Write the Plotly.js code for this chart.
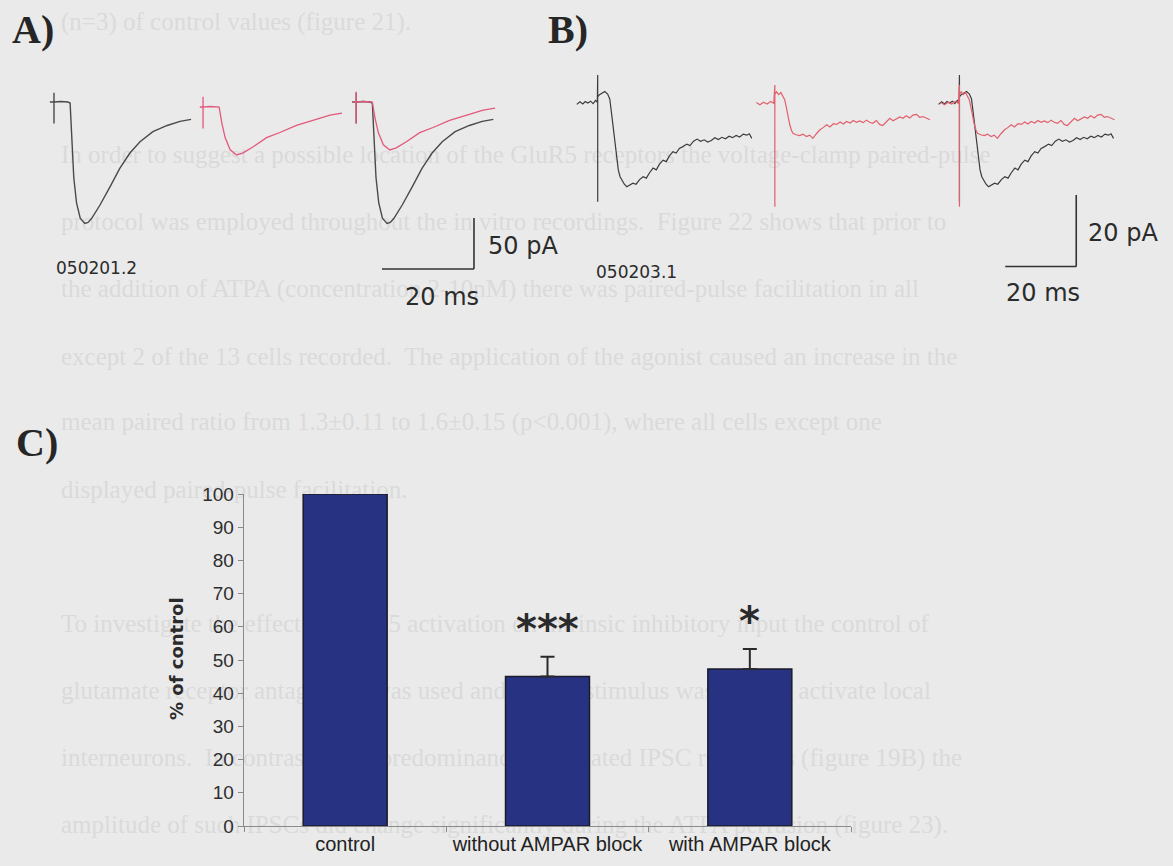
<!DOCTYPE html>
<html>
<head>
<meta charset="utf-8">
<script src="https://cdn.plot.ly/plotly-3.0.1.min.js"></script>
<style>html,body{margin:0;padding:0;background:#eaeaea;}#chart{width:1173px;height:866px;}</style>
</head>
<body>
<div id="chart"></div>
<script>
// ---------------- DATA ----------------
// Panel C: bar chart (% of control)
const categories = ['control', 'without AMPAR block', 'with AMPAR block'];
const meanPct = [100, 45.0, 47.3];
const semPct = [0, 6.0, 6.0];
const sigLabels = ['', '***', '*'];

// Panel A: recording 050201.2 (time in ms from stimulus, current in pA from baseline)
const tA_control = [-0.9, 0, 0, 0, 0, 1.5, 3.0, 3.5, 3.8, 4.3, 4.9, 5.7, 6.7, 7.4, 8.2, 10.0, 12.2, 14.3, 16.5, 18.7, 21.5, 24.6, 27.4, 29.8];
const iA_control = [0, 0, 9, -21, 0, 0.5, 0, -1, -34, -74, -99, -114, -119, -118, -114, -101, -83, -65, -50, -39, -29, -23, -19, -17];
const tA_atpa = [-0.7, 0, 0, 0, 0, 1.5, 3.0, 3.5, 4.1, 4.8, 5.9, 7.3, 8.7, 10.9, 13.8, 16.7, 20.3, 23.9, 27.6, 30.2];
const iA_atpa = [0, 0, 10, -21, 0, 0.5, 0.5, 0, -16, -30, -42, -47, -45, -39, -30, -25, -18, -13, -8, -6];
const scaleA = {ms: 20, pA: 50};
const idA = '050201.2';

// Panel B: recording 050203.1
const tB_control = [-5.9, -5, -4.2, -3.5, -2.8, -2, -1.3, -0.6, -0.1, 0, 0, 0, 0.5, 1.2, 2, 2.8, 3.4, 3.9, 4.4, 4.9, 5.3, 5.8, 6.3, 6.8, 7.5, 8.2, 9, 9.9, 10.8, 11.8, 12.8, 13.7, 14.6, 15.6, 16.5, 17.4, 18.4, 19.3, 20.2, 21.2, 22.1, 23, 24, 25.1, 26, 27, 28, 29, 30, 31, 32, 33, 34, 35, 36, 37, 38, 39, 40, 41, 42, 42.7, 43.4];
const iB_control = [-0.3, 0.4, -0.2, 0.5, 0.1, 0.6, -0.1, 0.8, 0.3, 7.9, -27.5, 1.8, 2.4, 2.9, 3.3, 2.6, 1.2, -2.8, -7, -11.1, -15, -18.6, -20.5, -21.4, -22.6, -23.3, -22.8, -22.3, -22.6, -21.3, -20.5, -20.9, -19.4, -18.1, -18.6, -17.0, -15.9, -16.3, -14.7, -13.5, -13.9, -12.6, -12.1, -11.4, -11.8, -10.6, -10.0, -10.6, -10.2, -10.8, -10.4, -9.6, -10.1, -9.5, -9.9, -9.2, -9.6, -9.0, -9.4, -8.6, -8.9, -8.5, -9.8];
const tB_atpa = [-5.2, -4.2, -3.2, -2.2, -1.2, -0.3, 0, 0, 0, 0.5, 1.1, 1.7, 2.3, 2.8, 3.3, 3.8, 4.2, 4.7, 5.1, 6, 7, 7.9, 8.9, 9.8, 10.7, 11.7, 12.7, 13.6, 14.6, 15.5, 16.5, 17.4, 18.4, 19.3, 20.2, 21.2, 22.1, 23, 23.9, 24.9, 25.8, 26.7, 27.6, 28.6, 29.5, 30.4, 31.4, 32.4, 33.3, 34.2, 35.2, 36.1, 37, 38, 38.9, 39.9, 40.8, 41.7, 42.7, 43.7];
const iB_atpa = [0.2, -0.4, 0.3, -0.2, 0.5, 0, 5.1, -28.9, 2.5, 3.2, 2.4, 3.0, 1.8, 0.9, -1.4, -4.2, -6.0, -7.6, -8.4, -8.8, -9.0, -8.6, -9.3, -8.9, -9.8, -8.5, -7.4, -6.8, -6.0, -6.6, -5.7, -5.9, -5.2, -5.8, -5.1, -5.5, -4.8, -5.3, -4.9, -5.4, -4.7, -5.3, -5.6, -4.8, -5.9, -6.2, -5.1, -4.2, -4.9, -4.4, -3.8, -4.2, -3.5, -4.1, -3.3, -3.1, -3.9, -3.7, -4.2, -4.6];
const scaleB = {ms: 20, pA: 20};
const idB = '050203.1';

// Faint page text showing through the scan
const pageLines = [
  '(n=3) of control values (figure 21).',
  'In order to suggest a possible location of the GluR5 receptors the voltage-clamp paired-pulse',
  'protocol was employed throughout the in vitro recordings.  Figure 22 shows that prior to',
  'the addition of ATPA (concentration 2-10nM) there was paired-pulse facilitation in all',
  'except 2 of the 13 cells recorded.  The application of the agonist caused an increase in the',
  'mean paired ratio from 1.3\u00b10.11 to 1.6\u00b10.15 (p<0.001), where all cells except one',
  'displayed paired-pulse facilitation.',
  'To investigate the effect of GluR5 activation on intrinsic inhibitory input the control of',
  'glutamate receptor antagonists was used and a local stimulus was used to activate local',
  'interneurons.  In contrast to the predominance of isolated IPSC responses (figure 19B) the',
  'amplitude of such IPSCs did change significantly during the ATPA perfusion (figure 23).'
];

// ---------------- LAYOUT CONSTANTS ----------------
const W = 1173, H = 866;
const px = x => x / W;
const py = y => 1 - y / H;
const BG = '#eaeaea';
const BLACK_A = '#4a4a4a', RED = '#e4587a', BLACK_B = '#3c3c3c', RED_B = '#e2606c';
const sweepOffsetA = [0, 32.4, 65.7];
const sweepOffsetB = [0, 49.9, 101.9];
const atpaBaselineA = -4.9;
const pageLineY = [19, 151, 218, 286, 353, 419, 486, 620, 687, 755, 822];

const shift = (arr, d) => arr.map(v => v + d);
function seg(xa, ya, t, i, dt, di, color, w) {
  return {type: 'scatter', mode: 'lines', xaxis: xa, yaxis: ya,
    x: shift(t, dt), y: shift(i, di), line: {color: color, width: w},
    hoverinfo: 'skip', showlegend: false};
}

const traces = [];
// Panel C bars
traces.push({
  type: 'bar', x: categories, y: meanPct, width: 0.415,
  marker: {color: '#283282', line: {color: '#1b1b2a', width: 1.5}},
  error_y: {type: 'data', symmetric: false, array: semPct, arrayminus: semPct.map(() => 0),
    visible: true, color: '#2a2a2a', thickness: 2, width: 7},
  showlegend: false, hoverinfo: 'skip'
});
// Panel A sweeps
traces.push(seg('x2', 'y2', tA_control, iA_control, sweepOffsetA[0], 0, BLACK_A, 1.4));
traces.push(seg('x2', 'y2', tA_atpa, iA_atpa, sweepOffsetA[1], atpaBaselineA, RED, 1.3));
traces.push(seg('x2', 'y2', tA_control, iA_control, sweepOffsetA[2], 0, BLACK_A, 1.4));
traces.push(seg('x2', 'y2', tA_atpa, iA_atpa, sweepOffsetA[2], 0, RED, 1.3));
// Panel B sweeps
traces.push(seg('x3', 'y3', tB_control, iB_control, sweepOffsetB[0], 0, BLACK_B, 1.2));
traces.push(seg('x3', 'y3', tB_atpa, iB_atpa, sweepOffsetB[1], 0, RED_B, 1.2));
traces.push(seg('x3', 'y3', tB_control, iB_control, sweepOffsetB[2], 0, BLACK_B, 1.2));
traces.push(seg('x3', 'y3', tB_atpa, iB_atpa, sweepOffsetB[2], 0, RED_B, 1.2));

// Scale bar anchors (corner, in each panel's data units)
const sbA = {x: 91.3, y: -163.7};
const sbB = {x: 134.8, y: -45.6};
const shapes = [];
function scaleBar(xr, yr, c, s) {
  shapes.push({type: 'line', xref: xr, yref: yr, x0: c.x - s.ms, x1: c.x, y0: c.y, y1: c.y, line: {color: '#333', width: 1.6}});
  shapes.push({type: 'line', xref: xr, yref: yr, x0: c.x, x1: c.x, y0: c.y, y1: c.y + s.pA, line: {color: '#333', width: 1.6}});
}
scaleBar('x2', 'y2', sbA, scaleA);
scaleBar('x3', 'y3', sbB, scaleB);

// faint page text beneath everything
pageLines.forEach((txt, k) => {
  shapes.push({type: 'rect', xref: 'paper', yref: 'paper', layer: 'below',
    x0: px(58), x1: px(1170), y0: py(pageLineY[k] + 14), y1: py(pageLineY[k] - 14),
    line: {width: 0}, fillcolor: 'rgba(0,0,0,0)',
    label: {text: txt, textposition: 'middle left', padding: 0,
      font: {family: 'Liberation Serif', size: 25, color: '#dadada'}}});
});

const annotations = [];
function txt(text, x, y, size, opts) {
  annotations.push(Object.assign({xref: 'paper', yref: 'paper', x: px(x), y: py(y), text: text,
    showarrow: false, xanchor: 'left', yanchor: 'middle',
    font: {family: 'DejaVu Sans', size: size, color: '#2b2b2b'}}, opts || {}));
}
// panel letters
txt('<b>A)</b>', 10, 29, 40, {font: {family: 'Liberation Serif', size: 40, color: '#262626'}});
txt('<b>B)</b>', 546, 29, 40, {font: {family: 'Liberation Serif', size: 40, color: '#262626'}});
txt('<b>C)</b>', 14, 442, 40, {font: {family: 'Liberation Serif', size: 40, color: '#262626'}});
// recording ids and scale labels
txt(idA, 96.5, 268, 17, {xanchor: 'center'});
txt(idB, 636.5, 272, 17, {xanchor: 'center'});
txt(scaleA.pA + ' pA', 486, 246, 24);
txt(scaleA.ms + ' ms', 442, 297, 24, {xanchor: 'center'});
txt(scaleB.pA + ' pA', 1086, 233, 24);
txt(scaleB.ms + ' ms', 1043, 293, 24, {xanchor: 'center'});
// y-axis title of panel C
txt('<b>% of control</b>', 176, 659, 18, {xanchor: 'center', textangle: -90,
  font: {family: 'DejaVu Sans', size: 18, color: '#2b2b2b'}});
// significance stars
categories.forEach((c, k) => {
  if (!sigLabels[k]) return;
  annotations.push({xref: 'x', yref: 'y', x: c, y: meanPct[k] + semPct[k], text: '<b>' + sigLabels[k] + '</b>',
    showarrow: false, xanchor: 'center', yanchor: 'bottom', yshift: 3,
    font: {family: 'DejaVu Sans', size: 40, color: '#2b2b2b'}});
});

const layout = {
  width: W, height: H,
  margin: {l: 0, r: 0, t: 0, b: 0, pad: 0},
  paper_bgcolor: BG, plot_bgcolor: 'rgba(0,0,0,0)',
  showlegend: false,
  xaxis: {domain: [px(244), px(851)], anchor: 'y', type: 'category', range: [-0.5, 2.5],
    showline: true, linecolor: '#8a8a8a', linewidth: 1.3, ticks: 'outside', tickson: 'boundaries',
    ticklen: 5, tickcolor: '#8a8a8a', showgrid: false, zeroline: false,
    tickfont: {family: 'Liberation Sans', size: 20, color: '#222'}},
  yaxis: {domain: [py(826), py(494)], anchor: 'x', range: [0, 100], dtick: 10, tick0: 0,
    showline: true, linecolor: '#8a8a8a', linewidth: 1.3, ticks: 'outside', ticklen: 5,
    tickcolor: '#8a8a8a', showgrid: false, zeroline: false,
    tickfont: {family: 'Liberation Sans', size: 19, color: '#2e2e2e'}},
  xaxis2: {domain: [px(20), px(540)], anchor: 'y2', range: [-7.391, 105.652], visible: false},
  yaxis2: {domain: [py(320), py(70)], anchor: 'x2', range: [-213.73, 31.37], visible: false},
  xaxis3: {domain: [px(560), 1], anchor: 'y3', range: [-10.62, 162.056], visible: false},
  yaxis3: {domain: [py(320), py(70)], anchor: 'x3', range: [-60.53, 9.30], visible: false},
  shapes: shapes,
  annotations: annotations
};

Plotly.newPlot('chart', traces, layout, {staticPlot: true, displayModeBar: false});
</script>
</body>
</html>
